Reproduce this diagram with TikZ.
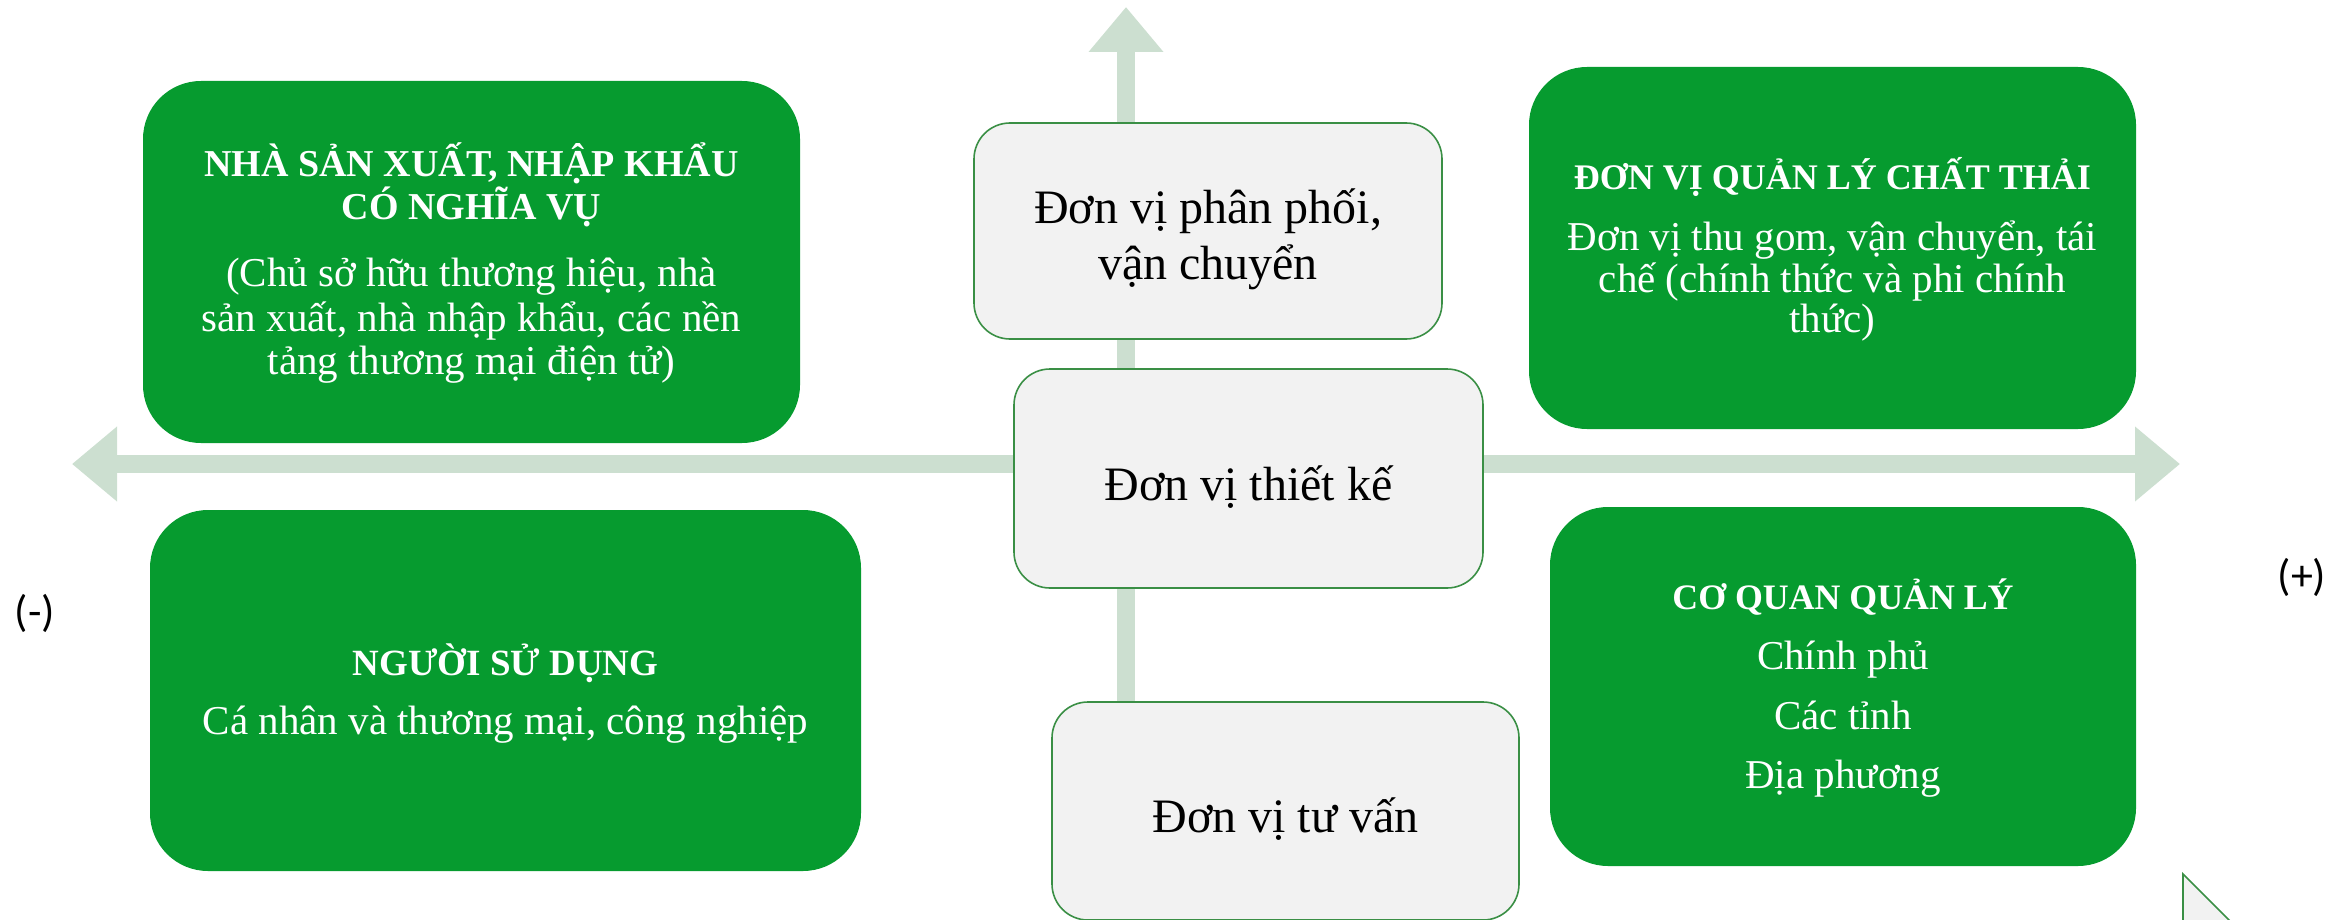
\documentclass[tikz,border=0pt]{standalone}
\usepackage{fontspec}
\setmainfont{Liberation Serif}
\newfontfamily\signfont{Carlito}
\usetikzlibrary{arrows.meta}
\definecolor{boxgreen}{HTML}{069B2F}
\definecolor{axisc}{HTML}{CCDFD0}
\definecolor{grayfill}{HTML}{F2F2F2}
\definecolor{edgegreen}{HTML}{3A8F45}
\begin{document}
\begin{tikzpicture}[x=1pt,y=-1pt,
  greenbox/.style={fill=boxgreen, rounded corners=58pt, inner sep=0pt, outer sep=0pt},
  graybox/.style={fill=grayfill, draw=edgegreen, line width=1.6pt, rounded corners=36pt, inner sep=0pt},
  axis/.style={draw=axisc, line width=18pt, {Triangle[width=72pt,length=45pt]}-{Triangle[width=72pt,length=45pt]}},
  vaxis/.style={draw=axisc, line width=18pt, -{Triangle[width=72pt,length=45pt]}},
  titletext/.style={text=white, font=\fontsize{#1}{44}\selectfont\bfseries, anchor=base, inner sep=0pt},
  titletext/.default=36.5,
  bodytext/.style={text=white, font=\fontsize{41}{44}\selectfont, anchor=base, inner sep=0pt},
  graytext/.style={text=black, font=\fontsize{48}{56}\selectfont, anchor=base, inner sep=0pt},
  signtext/.style={text=black, font=\signfont\fontsize{44}{52}\selectfont, inner sep=0pt}]
\useasboundingbox (0,0) rectangle (2348,920);
\clip (0,0) rectangle (2348,920);
% axes
\coordinate (axL) at (72,464);
\coordinate (axR) at (2180,464);
\coordinate (axT) at (1126,7);
\coordinate (axB) at (1126,800);
\draw[axis] (axL) -- (axR);
\draw[vaxis] (axB) -- (axT);
% green boxes
\node[greenbox, minimum width=657pt, minimum height=362pt] (tl) at (471.5,262) {};
\node[greenbox, minimum width=711pt, minimum height=361pt] (bl) at (505.5,690.5) {};
\node[greenbox, minimum width=607pt, minimum height=362pt] (tr) at (1832.5,248) {};
\node[greenbox, minimum width=586pt, minimum height=359pt] (br) at (1843,686.5) {};
% gray boxes
\node[graybox, minimum width=468pt, minimum height=216pt] (g1) at (1208,231) {};
\node[graybox, minimum width=469pt, minimum height=219pt] (g2) at (1248.5,478.5) {};
\node[graybox, minimum width=467pt, minimum height=218pt] (g3) at (1285.5,811) {};
% texts top-left
\node[titletext=38] (tlt1) at (471.5,177) {NHÀ SẢN XUẤT, NHẬP KHẨU};
\node[titletext=38] (tlt2) at (471.5,220) {CÓ NGHĨA VỤ};
\node[bodytext] (tlb1) at (471.5,287) {(Chủ sở hữu thương hiệu, nhà};
\node[bodytext] (tlb2) at (471.5,331) {sản xuất, nhà nhập khẩu, các nền};
\node[bodytext] (tlb3) at (471.5,374) {tảng thương mại điện tử)};
% top-right
\node[titletext=36] (trt1) at (1832.5,190) {ĐƠN VỊ QUẢN LÝ CHẤT THẢI};
\node[bodytext] (trb1) at (1832.5,251) {Đơn vị thu gom, vận chuyển, tái};
\node[bodytext] (trb2) at (1832.5,292) {chế (chính thức và phi chính};
\node[bodytext] (trb3) at (1832.5,332) {thức)};
% bottom-left
\node[titletext=37] (blt1) at (505.5,675) {NGƯỜI SỬ DỤNG};
\node[bodytext] (blb1) at (505.5,734) {Cá nhân và thương mại, công nghiệp};
% bottom-right
\node[titletext=35.8] (brt1) at (1843,609) {CƠ QUAN QUẢN LÝ};
\node[bodytext] (brb1) at (1843,669) {Chính phủ};
\node[bodytext] (brb2) at (1843,729) {Các tỉnh};
\node[bodytext] (brb3) at (1843,788) {Địa phương};
% gray texts
\node[graytext] (g1a) at (1208,224) {Đơn vị phân phối,};
\node[graytext] (g1b) at (1208,279) {vận chuyển};
\node[graytext] (g2a) at (1248.5,500) {Đơn vị thiết kế};
\node[graytext] (g3a) at (1285.5,832) {Đơn vị tư vấn};
% signs
\node[signtext] (minus) at (35,613) {(-)};
\node[signtext] (plus) at (2302,577) {(+)};
% corner shape
\coordinate (cA) at (2183,874);
\coordinate (cB) at (2183,940);
\coordinate (cC) at (2249,940);
\filldraw[fill=grayfill, draw=edgegreen, line width=1.6pt] (cA) -- (cB) -- (cC) -- cycle;
\end{tikzpicture}
\end{document}
